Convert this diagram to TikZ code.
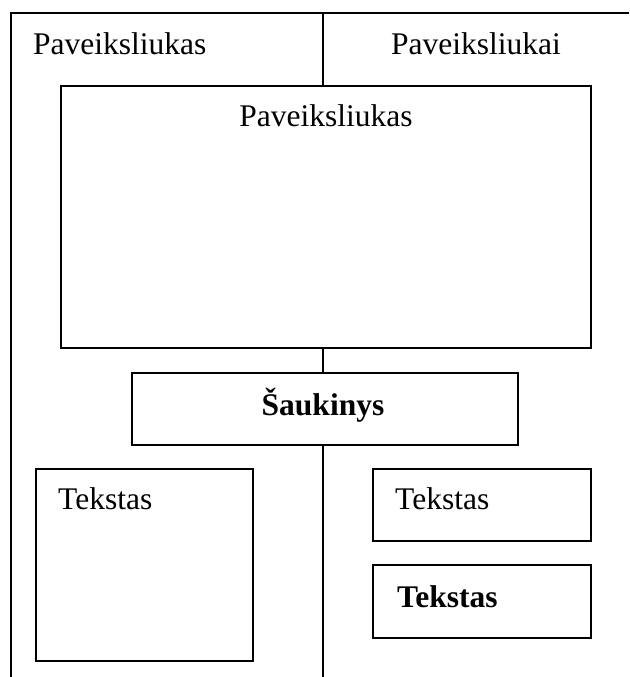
\documentclass[tikz,border=0pt]{standalone}
\usepackage{fontspec}
\setmainfont{Liberation Serif}
\usetikzlibrary{positioning,calc}

\begin{document}
\begin{tikzpicture}[x=1pt,y=-1pt,
  rule/.style={line width=1.8pt},
  box/.style={draw,line width=1.8pt,anchor=north west,inner sep=0pt},
  txt/.style={inner sep=0pt,font=\fontsize{31.5}{37}\selectfont}]
\useasboundingbox (0,0) rectangle (629,677);
% frame and middle rule
\coordinate (tl) at (11,13);
\coordinate (bl) at (11,677);
\coordinate (tr) at (629,13);
\coordinate (tm) at (323,13);
\coordinate (bm) at (323,677);
\draw[rule] (bl) -- (tl) -- (tr);
% boxes
\node[box,minimum width=530pt,minimum height=262pt] (pic) at (60,85) {};
\node[box,minimum width=386pt,minimum height=72pt] (title) at (131,372) {};
\node[box,minimum width=217pt,minimum height=192pt] (ltext) at (35,468) {};
\node[box,minimum width=218pt,minimum height=72pt] (rtext) at (372,468) {};
\node[box,minimum width=218pt,minimum height=73pt] (rbold) at (372,564) {};
\draw[rule] (tm) -- (tm |- pic.north);
\draw[rule] (tm |- pic.south) -- (tm |- title.north);
\draw[rule] (tm |- title.south) -- (bm);
% texts
\node[txt,anchor=base west] (hdl) at (33,55) {Paveiksliukas};
\node[txt,anchor=base] (hdr) at (476,55) {Paveiksliukai};
\node[txt,anchor=base] (pictxt) at ($(pic.north)+(0,41)$) {Paveiksliukas};
\node[txt,anchor=base,font=\fontsize{31.5}{37}\selectfont\bfseries] (titletxt) at (323,415) {Šaukinys};
\node[txt,anchor=base west] (ltxt) at ($(ltext.north west)+(23,41)$) {Tekstas};
\node[txt,anchor=base west] (rtxt) at ($(rtext.north west)+(23,41)$) {Tekstas};
\node[txt,anchor=base west,font=\fontsize{31.5}{37}\selectfont\bfseries] (btxt) at ($(rbold.north west)+(25,43)$) {Tekstas};
\end{tikzpicture}
\end{document}
